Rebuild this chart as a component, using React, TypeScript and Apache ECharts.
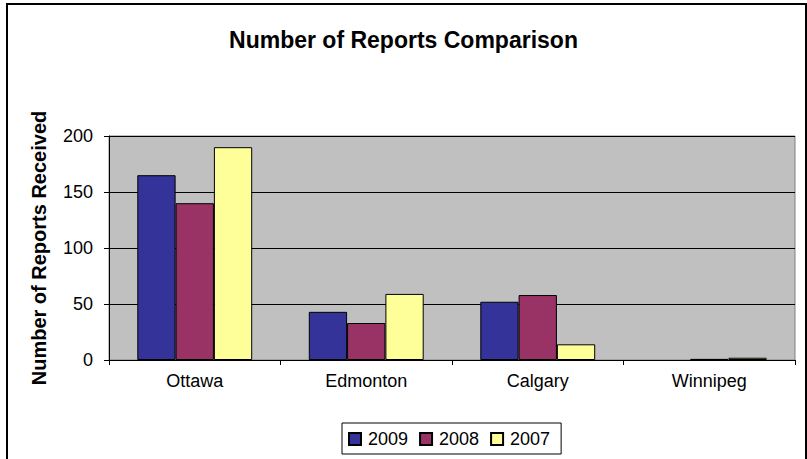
import React, { useEffect, useRef } from "react";
import * as echarts from "echarts";

const categories = ["Ottawa", "Edmonton", "Calgary", "Winnipeg"];
const seriesNames = ["2009", "2008", "2007"];
const values2009 = [165, 43, 52, 0];
const values2008 = [140, 33, 58, 1];
const values2007 = [190, 59, 14, 2];
const seriesColors = ["#333399", "#993366", "#FFFF99"];
const yTicks = { min: 0, max: 200, interval: 50 };

export default function App() {
  const ref = useRef<HTMLDivElement>(null);
  useEffect(() => {
    if (!ref.current) return;
    const chart = echarts.init(ref.current, null, { renderer: "svg" });
    const font = "Arial, 'Liberation Sans', sans-serif";
    const data = [values2009, values2008, values2007];
    chart.setOption({
      animation: false,
      backgroundColor: "#ffffff",
      textStyle: { fontFamily: font },
      title: {
        text: "Number of Reports Comparison",
        left: "center",
        top: 23,
        textStyle: { fontFamily: font, fontSize: 23, fontWeight: "bold", color: "#000" },
      },
      graphic: [
        {
          type: "rect",
          shape: { x: 7, y: 4, width: 799, height: 470 },
          style: { fill: "none", stroke: "#000", lineWidth: 2 },
          silent: true,
          z: 100,
        },
      ],
      legend: {
        data: seriesNames,
        left: 342,
        top: 423,
        orient: "horizontal",
        borderColor: "#000",
        borderWidth: 1,
        padding: [7, 11, 6, 6],
        itemGap: 11,
        itemWidth: 12,
        itemHeight: 12,
        icon: "rect",
        textStyle: { fontFamily: font, fontSize: 18, color: "#000", padding: [0, 0, 0, 2] },
      },
      grid: {
        left: 109,
        right: 12,
        top: 136,
        bottom: 99,
        show: true,
        backgroundColor: "#C0C0C0",
        borderColor: "#808080",
        borderWidth: 1,
      },
      xAxis: {
        type: "category",
        data: categories,
        axisLine: { lineStyle: { color: "#000", width: 1 } },
        axisTick: { show: true, length: 5, lineStyle: { color: "#000" } },
        axisLabel: { fontFamily: font, fontSize: 18, color: "#000", margin: 12 },
      },
      yAxis: {
        type: "value",
        min: yTicks.min,
        max: yTicks.max,
        interval: yTicks.interval,
        name: "Number of Reports Received",
        nameLocation: "middle",
        nameRotate: 90,
        nameGap: 60,
        nameTextStyle: { fontFamily: font, fontSize: 20, fontWeight: "bold", color: "#000" },
        axisLine: { show: true, lineStyle: { color: "#000", width: 1 } },
        axisTick: { show: true, length: 5, lineStyle: { color: "#000" } },
        axisLabel: { fontFamily: font, fontSize: 18, color: "#000", margin: 16 },
        splitLine: { show: true, lineStyle: { color: "#000", width: 1 } },
      },
      series: seriesNames.map((name, i) => ({
        name,
        type: "bar",
        data: data[i].map((v) => ({
          value: v,
          itemStyle: { borderWidth: v === 0 ? 0 : 1 },
        })),
        barGap: "0%",
        barCategoryGap: "33%",
        itemStyle: { color: seriesColors[i], borderColor: "#000", borderWidth: 1 },
      })),
    });
    return () => chart.dispose();
  }, []);
  return (
    <div
      ref={ref}
      style={{ position: "fixed", left: 0, top: 0, width: 807, height: 459 }}
    />
  );
}
